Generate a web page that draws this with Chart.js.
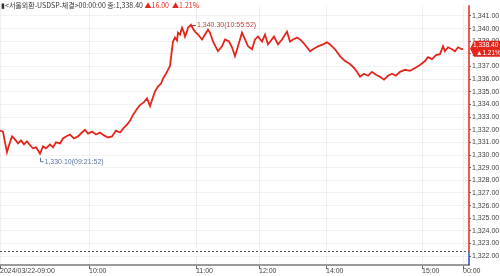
<!DOCTYPE html>
<html>
<head>
<meta charset="utf-8">
<script src="https://cdn.jsdelivr.net/npm/chart.js@4/dist/chart.umd.min.js"></script>
<style>
    html, body { margin: 0; padding: 0; background: #fff; }
    #wrap { width: 500px; height: 276px; }
</style>
</head>
<body>
<div id="wrap"><canvas id="fxChart" width="500" height="276"></canvas></div>
<script>
// tick sequence number of each sample (the time axis runs on tick count, not clock time)
const seq = [0, 3, 5, 7, 9, 12, 15, 18, 21, 24, 27, 30, 33, 36, 38, 40, 43, 46, 50, 53,
    56, 60, 63, 66, 70, 74, 78, 82, 85, 88, 92, 96, 100, 104, 108, 112, 116, 120, 124, 127,
    130, 133, 137, 140, 144, 147, 150, 153, 155, 158, 161, 163, 166, 168, 170, 172, 173, 175, 177, 178,
    180, 182, 184, 185, 187, 188, 191, 193, 195, 198, 202, 205, 208, 210, 213, 216, 218, 222, 225, 229,
    232, 235, 238, 242, 245, 248, 252, 255, 258, 262, 265, 268, 271, 274, 278, 282, 287, 290, 293, 297,
    300, 303, 307, 310, 313, 318, 323, 327, 330, 335, 340, 345, 350, 354, 357, 360, 364, 368, 372, 376,
    380, 384, 388, 392, 396, 400, 405, 410, 415, 420, 425, 428, 432, 436, 440, 443, 445, 448, 452, 455,
    458, 462, 463];
const price = [1331.93, 1331.85, 1331.00, 1330.22, 1330.77, 1331.47, 1331.23, 1330.92, 1331.16, 1330.84,
    1331.08, 1330.77, 1330.53, 1330.61, 1330.38, 1330.10, 1330.69, 1330.53, 1330.84, 1330.61,
    1331.00, 1330.92, 1331.31, 1331.47, 1331.62, 1331.31, 1331.47, 1331.78, 1332.00, 1331.70,
    1331.85, 1331.62, 1331.78, 1331.55, 1331.39, 1331.47, 1331.93, 1331.78, 1332.16, 1332.40,
    1332.70, 1333.17, 1333.64, 1333.95, 1334.18, 1334.49, 1333.87, 1334.57, 1335.03, 1335.42,
    1335.65, 1336.04, 1336.43, 1336.74, 1337.05, 1338.36, 1338.98, 1339.29, 1339.06, 1339.68,
    1339.53, 1340.07, 1339.68, 1339.37, 1339.76, 1340.07, 1340.30, 1339.99, 1339.76, 1339.53,
    1339.14, 1339.53, 1339.91, 1339.68, 1338.98, 1338.52, 1338.21, 1338.60, 1339.14, 1338.98,
    1338.52, 1337.82, 1338.60, 1339.68, 1339.14, 1338.60, 1338.36, 1339.14, 1339.37, 1338.98,
    1339.53, 1338.75, 1339.06, 1339.37, 1338.75, 1339.14, 1339.76, 1338.98, 1339.14, 1339.29,
    1339.14, 1338.91, 1338.52, 1338.21, 1338.36, 1338.60, 1338.75, 1338.91, 1338.75, 1338.36,
    1337.82, 1337.43, 1337.20, 1336.89, 1336.58, 1336.19, 1336.43, 1336.27, 1336.58, 1336.35,
    1336.19, 1335.96, 1336.27, 1336.43, 1336.27, 1336.58, 1336.74, 1336.66, 1336.89, 1337.12,
    1337.43, 1337.74, 1337.59, 1337.90, 1337.98, 1338.60, 1338.21, 1338.52, 1338.36, 1338.21,
    1338.52, 1338.36, 1338.40];

const timeTickSeq = [0, 89, 196, 259, 326, 422, 463];
const timeTickLabels = ['2024/03/22-09:00', '10:00', '11:00', '12:00', '14:00', '15:00', '00:00'];
const priceTicks = [1322, 1323, 1324, 1325, 1326, 1327, 1328, 1329, 1330, 1331,
    1332, 1333, 1334, 1335, 1336, 1337, 1338, 1339, 1340, 1341];

const prevClose = 1322.40;
const lastPrice = 1338.40;
const change = '▲16.00';
const changePct = '▲1.21%';
const highLabel = '1,340.30(10:55:52)';
const lowLabel = '1,330.10(09:21:52)';
const headerText = '▮<서울외환-USDSP-체결>00:00:00 종:1,338.40 ';

const UP = '#e3261c';
const DOWN = '#2f55a4';
const FONT = "'Liberation Sans', Arial, sans-serif";

function fmt(v) {
    return v.toLocaleString('en-US', { minimumFractionDigits: 2, maximumFractionDigits: 2 });
}

// draws header, prev close line, hi/lo notes, right axis line and price tag
const overlayPlugin = {
    id: 'overlay',
    afterDatasetsDraw(chart) {
        const ctx = chart.ctx;
        const xs = chart.scales.x;
        const ys = chart.scales.y;
        const area = chart.chartArea;
        ctx.save();

        // previous close (dotted)
        const yPrev = Math.round(ys.getPixelForValue(prevClose)) + 0.5;
        ctx.strokeStyle = '#555';
        ctx.lineWidth = 1;
        ctx.setLineDash([2, 2]);
        ctx.beginPath();
        ctx.moveTo(area.left, yPrev);
        ctx.lineTo(area.right, yPrev);
        ctx.stroke();
        ctx.setLineDash([]);

        // right axis line: red above prev close, blue below
        ctx.lineWidth = 1.5;
        ctx.strokeStyle = UP;
        ctx.beginPath();
        ctx.moveTo(area.right, area.top);
        ctx.lineTo(area.right, yPrev);
        ctx.stroke();
        ctx.strokeStyle = DOWN;
        ctx.beginPath();
        ctx.moveTo(area.right, yPrev);
        ctx.lineTo(area.right, area.bottom);
        ctx.stroke();

        ctx.font = '7px ' + FONT;
        ctx.textBaseline = 'middle';

        // high note
        const hiIdx = price.indexOf(Math.max(...price));
        const hx = xs.getPixelForValue(seq[hiIdx]);
        const hy = ys.getPixelForValue(price[hiIdx]);
        ctx.strokeStyle = '#b8413a';
        ctx.lineWidth = 1;
        ctx.beginPath();
        ctx.moveTo(hx - 2, Math.round(hy) + 0.5);
        ctx.lineTo(hx + 5, Math.round(hy) + 0.5);
        ctx.stroke();
        ctx.fillStyle = '#b8413a';
        ctx.fillText(highLabel, hx + 6, hy);

        // low note
        const loIdx = price.indexOf(Math.min(...price));
        const lx = Math.round(xs.getPixelForValue(seq[loIdx])) + 0.5;
        const ly = ys.getPixelForValue(price[loIdx]);
        ctx.strokeStyle = '#5b76a0';
        ctx.beginPath();
        ctx.moveTo(lx, ly + 4);
        ctx.lineTo(lx, ly + 8);
        ctx.lineTo(lx + 3, ly + 8);
        ctx.stroke();
        ctx.fillStyle = '#5b76a0';
        ctx.fillText(lowLabel, lx + 4, ly + 8);

        // header
        ctx.fillStyle = '#333';
        ctx.font = "7px 'Noto Sans CJK KR', " + FONT;
        ctx.fillText(headerText, 1, 5);
        const w = ctx.measureText(headerText).width;
        ctx.fillStyle = UP;
        ctx.fillText(change + '  ' + changePct, 1 + w, 5);

        // price tag
        const ty = ys.getPixelForValue(lastPrice);
        const tx = area.right + 1;
        ctx.fillStyle = UP;
        ctx.beginPath();
        ctx.moveTo(tx, ty);
        ctx.lineTo(tx + 4, ty - 8);
        ctx.lineTo(500, ty - 8);
        ctx.lineTo(500, ty + 8);
        ctx.lineTo(tx + 4, ty + 8);
        ctx.closePath();
        ctx.fill();
        ctx.fillStyle = '#fff';
        ctx.font = '6.5px ' + FONT;
        ctx.textAlign = 'left';
        ctx.fillText(fmt(lastPrice), tx + 3, ty - 3.5);
        ctx.fillText(changePct, tx + 6, ty + 4);

        ctx.restore();
    }
};

const ctxFx = document.getElementById('fxChart').getContext('2d');
new Chart(ctxFx, {
    type: 'line',
    data: {
        datasets: [{
            data: seq.map((s, i) => ({ x: s, y: price[i] })),
            borderColor: UP,
            borderWidth: 1.8,
            pointRadius: 0,
            tension: 0,
            fill: false
        }]
    },
    options: {
        responsive: false,
        animation: false,
        events: [],
        layout: { padding: 0 },
        plugins: {
            legend: { display: false },
            tooltip: { enabled: false }
        },
        scales: {
            x: {
                type: 'linear',
                min: 0,
                max: 469,
                afterBuildTicks: s => { s.ticks = timeTickSeq.map(v => ({ value: v })); },
                afterFit: s => { s.height = 11; },
                ticks: {
                    autoSkip: false,
                    maxRotation: 0,
                    align: 'start',
                    padding: -2,
                    color: '#444',
                    font: { size: 7, family: FONT },
                    callback: v => timeTickLabels[timeTickSeq.indexOf(v)]
                },
                grid: {
                    color: 'rgba(0,0,0,0.06)',
                    tickColor: '#666',
                    tickLength: 4
                },
                border: { color: '#9a9a9a', width: 2 }
            },
            y: {
                type: 'linear',
                position: 'right',
                min: 1321.3,
                max: 1341.85,
                afterBuildTicks: s => { s.ticks = priceTicks.map(v => ({ value: v })); },
                afterFit: s => { s.width = 31; },
                ticks: {
                    padding: 1,
                    color: '#444',
                    font: { size: 7, family: FONT },
                    callback: v => fmt(v)
                },
                grid: {
                    color: 'rgba(0,0,0,0.05)',
                    tickColor: '#666',
                    tickLength: 2
                },
                border: { display: false }
            }
        }
    },
    plugins: [overlayPlugin]
});
</script>
</body>
</html>
